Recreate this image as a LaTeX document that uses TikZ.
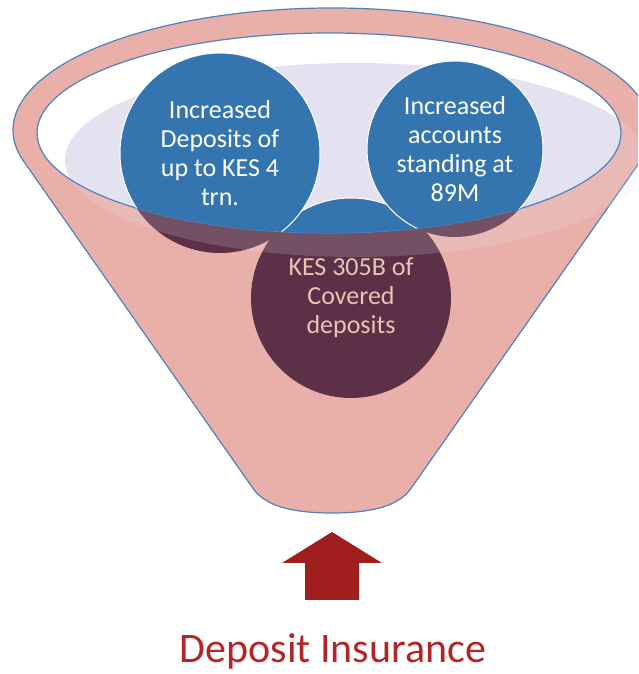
\documentclass[tikz,border=0pt]{standalone}
\usepackage{fontspec}
\setmainfont{Carlito}

\definecolor{funnelpink}{RGB}{233,176,169}
\definecolor{rimblue}{RGB}{79,129,189}
\definecolor{glow}{RGB}{228,226,240}
\definecolor{bubbleblue}{RGB}{52,117,176}
\definecolor{bubblemaroon}{RGB}{92,48,70}
\definecolor{coveredtext}{RGB}{232,196,180}
\definecolor{arrowred}{RGB}{160,30,30}
\definecolor{labelred}{RGB}{178,38,38}

\begin{document}
\begin{tikzpicture}[x=1pt,y=1pt,
	bubble/.style={circle, inner sep=0pt, fill=bubblemaroon},
	bubbletext/.style={align=center, text=white, font=\fontsize{26}{29}\selectfont}
	]
	\useasboundingbox (0,0) rectangle (638,674);
	\clip (0,0) rectangle (638,674);
	
	% funnel body
	\filldraw[fill=funnelpink, draw=rimblue, line width=1.2pt]
		(23.9,512.4) -- (252,187) .. controls (264,168) and (292,161) .. (332,161)
		.. controls (372,161) and (400,168) .. (412,187) -- (640.1,512.4)
		arc[start angle=-15, end angle=195, x radius=319, y radius=122] -- cycle;
	\coordinate (rim) at (329,541);
	\coordinate (haze) at (355,514);
	
	% circles, seen through the funnel below the rim
	\node[bubble, minimum size=200pt] (covered) at (351,376) {};
	\node[bubble, minimum size=200pt] (deposits) at (220,521) {};
	\node[bubble, minimum size=176pt] (accounts) at (455,525) {};
	
	\fill[glow, opacity=0.18] (haze) ellipse[x radius=290, y radius=97];
	\fill[white] (rim) ellipse[x radius=292, y radius=100];
	\begin{scope}
		\clip (rim) ellipse[x radius=292, y radius=100];
		\fill[glow] (haze) ellipse[x radius=290, y radius=97];
	\end{scope}
	\draw[rimblue, line width=1.2pt] (rim) ellipse[x radius=292, y radius=100];
	
	\begin{scope}
		\clip (rim) ellipse[x radius=292, y radius=100];
		\foreach \c/\r in {covered/100, deposits/100, accounts/88}
			\filldraw[fill=bubbleblue, draw=white, line width=1pt] (\c.center) circle[radius=\r];
	\end{scope}
	
	\node[bubbletext] (deposits-text) at (deposits) {Increased\\Deposits of\\up to KES 4\\trn.};
	\node[bubbletext] (accounts-text) at (accounts) {Increased\\accounts\\standing at\\89M};
	\node[bubbletext, text=coveredtext] (covered-text) at (covered) {KES 305B of\\Covered\\deposits};
	
	% arrow and label
	\fill[arrowred] (305,74) -- (305,111) -- (282,111) -- (332,142) -- (382,111)
		-- (359,111) -- (359,74) -- cycle;
	\node[anchor=base, text=labelred, font=\fontsize{42}{50}\selectfont] (insurance) at (333,11) {Deposit Insurance};
\end{tikzpicture}
\end{document}
